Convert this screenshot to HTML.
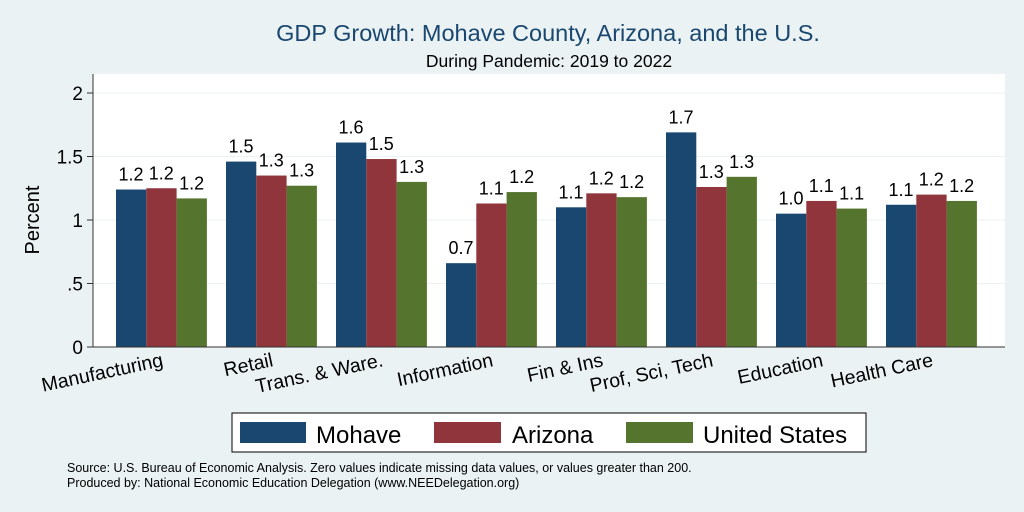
<!DOCTYPE html>
<html><head><meta charset="utf-8"><style>
body{margin:0;background:#eaf2f3;}
svg{display:block;font-family:"Liberation Sans",sans-serif;}
</style></head><body>
<svg width="1024" height="512">
<rect x="0" y="0" width="1024" height="512" fill="#eaf2f3"/>
<text x="548" y="41" font-size="23.5" fill="#1a476f" text-anchor="middle">GDP Growth: Mohave County, Arizona, and the U.S.</text>
<text x="549" y="67" font-size="17.5" fill="#000" text-anchor="middle">During Pandemic: 2019 to 2022</text>
<rect x="93" y="74" width="912" height="273" fill="#fff"/>
<g id="grid"></g>
<g id="bars"></g>
<g id="axes"></g>
<text transform="translate(39,220) rotate(-90)" font-size="20" text-anchor="middle">Percent</text>
<rect x="232" y="413" width="634" height="39" fill="#fff" stroke="#000" stroke-width="1"/>
<g><rect x="240" y="422" width="66" height="21" fill="#1a476f"/><text x="316" y="443" font-size="24">Mohave</text></g>
<g><rect x="434" y="422" width="67" height="21" fill="#90353b"/><text x="512" y="443" font-size="24">Arizona</text></g>
<g><rect x="626" y="422" width="67" height="21" fill="#55752f"/><text x="703" y="443" font-size="24">United States</text></g>
<text x="67" y="472" font-size="12.5">Source: U.S. Bureau of Economic Analysis. Zero values indicate missing data values, or values greater than 200.</text>
<text x="67" y="487" font-size="12.5">Produced by: National Economic Education Delegation (www.NEEDelegation.org)</text>
</svg>
<script>
const categories=["Manufacturing","Retail","Trans. & Ware.","Information","Fin & Ins","Prof, Sci, Tech","Education","Health Care"];
const mohave=[1.24,1.46,1.61,0.66,1.10,1.69,1.05,1.12];
const arizona=[1.25,1.35,1.48,1.13,1.21,1.26,1.15,1.20];
const usa=[1.17,1.27,1.30,1.22,1.18,1.34,1.09,1.15];
const mohaveLabels=["1.2","1.5","1.6","0.7","1.1","1.7","1.0","1.1"];
const arizonaLabels=["1.2","1.3","1.5","1.1","1.2","1.3","1.1","1.2"];
const usaLabels=["1.2","1.3","1.3","1.2","1.2","1.3","1.1","1.2"];
const yTicks=[0,0.5,1,1.5,2];
const yTickLabels=["0",".5","1","1.5","2"];
const NS="http://www.w3.org/2000/svg";
function y(v){return 347-v*127;}
function gx(i){return 116+i*110;}
function mk(t,a,p){const e=document.createElementNS(NS,t);for(const k in a)e.setAttribute(k,a[k]);p.appendChild(e);return e;}
const grid=document.getElementById('grid'),bars=document.getElementById('bars'),axes=document.getElementById('axes');
yTicks.forEach((t,i)=>{
 if(t>0){const g=mk('line',{x1:93,x2:1005,y1:y(t),y2:y(t),stroke:'#eaf2f3','stroke-width':1},grid);
 
 }
 const tk=mk('line',{x1:87,x2:93,y1:y(t),y2:y(t),stroke:'#333'},axes);
 
 
 const tl=mk('text',{x:83,y:y(t)+7,'font-size':19,'text-anchor':'end'},axes);
 tl.textContent=yTickLabels[i];
 
 
});
const series=[[mohave,mohaveLabels,'#1a476f','mohave'],[arizona,arizonaLabels,'#90353b','arizona'],[usa,usaLabels,'#55752f','us']];
categories.forEach((c,i)=>{
 series.forEach((s,j)=>{
  const x=gx(i)+j*30.3,v=s[0][i];
  const r=mk('rect',{x:x,y:y(v),width:30.3,height:347-y(v),fill:s[2]},bars);
  
  
  const l=mk('text',{x:x+15,y:y(v)-9,'font-size':18,'text-anchor':'middle'},bars);
  l.textContent=s[1][i];
  
  
 });
 const cx=gx(i)+48;
 const t=mk('text',{transform:'translate('+cx+',366) rotate(-12)','font-size':19.5,'text-anchor':'end'},axes);
 t.textContent=c;
 
 
});
const ax=mk('line',{x1:93,x2:93,y1:74,y2:347,stroke:'#333','stroke-width':1},axes);


const bx=mk('line',{x1:93,x2:1005,y1:347,y2:347,stroke:'#333','stroke-width':1},axes);


</script>
</body></html>
